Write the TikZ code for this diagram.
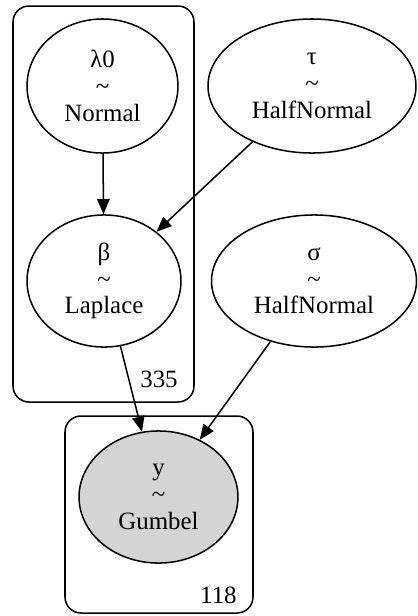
\documentclass[tikz,border=0pt]{standalone}
\usepackage{fontspec}
\setmainfont{Liberation Serif}
\usetikzlibrary{shapes.geometric,arrows.meta}
\tikzset{
  rv/.style={ellipse, draw=black, line width=0.85pt, inner sep=0pt, align=center,
    font=\fontsize{14}{15}\selectfont},
  obs/.style={rv, fill=black!17},
  plate/.style={draw=black, line width=0.85pt, rounded corners=9pt},
  platelabel/.style={anchor=base east, inner sep=0pt, font=\fontsize{14}{15}\selectfont},
  edge/.style={draw=black, line width=0.85pt, -{Triangle[length=8.5pt,width=7pt]}}
}
\begin{document}
\begin{tikzpicture}[x=0.5625pt, y=-0.5625pt]
\useasboundingbox (0,0) rectangle (417,616);
% plates
\draw[plate] (13,6) rectangle (194,402);
\draw[plate] (65,416) rectangle (253,613);
\node[platelabel] (n335) at (178,387) {335};
\node[platelabel] (n118) at (237,603) {118};
% nodes
\node[rv, minimum width=84.9pt, minimum height=75.4pt] (l0) at (102.5,86) {λ0\\\textasciitilde\\Normal};
\node[rv, minimum width=117pt, minimum height=75.4pt] (tau) at (312,86) {τ\\\textasciitilde\\HalfNormal};
\node[rv, minimum width=86.6pt, minimum height=74.3pt] (beta) at (104,281) {β\\\textasciitilde\\Laplace};
\node[rv, minimum width=115.3pt, minimum height=74.3pt] (sigma) at (314,281) {σ\\\textasciitilde\\HalfNormal};
\node[obs, minimum width=89.4pt, minimum height=74.3pt] (y) at (158.5,497) {y\\\textasciitilde\\Gumbel};
% edges
\draw[edge] (l0) -- (beta);
\draw[edge] (tau) -- (beta);
\draw[edge] (beta) -- (y);
\draw[edge] (sigma) -- (y);
\end{tikzpicture}
\end{document}
